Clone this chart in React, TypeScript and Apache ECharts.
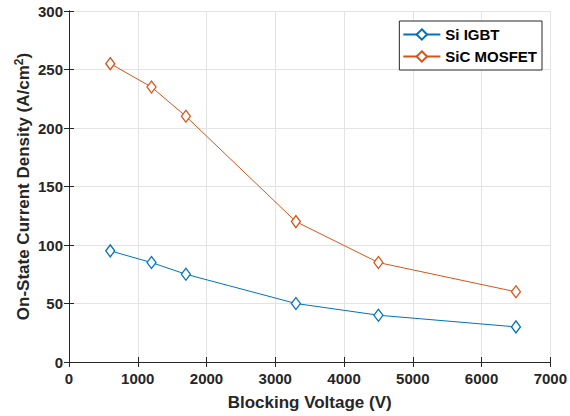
import React, { useEffect, useRef } from "react";
import * as echarts from "echarts";

const voltages = [600, 1200, 1700, 3300, 4500, 6500];
const siIGBT = [95, 85, 75, 50, 40, 30];
const sicMOSFET = [255, 235, 210, 120, 85, 60];
const seriesNames = ["Si IGBT", "SiC MOSFET"];

const TXT = "#262626";
const FONT = "'Liberation Sans', Arial, Helvetica, sans-serif";

export default function App() {
  const ref = useRef<HTMLDivElement>(null);
  useEffect(() => {
    if (!ref.current) return;
    const chart = echarts.init(ref.current, undefined, { renderer: "svg" });
    const pair = (ys: number[]) => voltages.map((v, i) => [v, ys[i]]);
    const mkSeries = (name: string, ys: number[], color: string) => ({
      name,
      type: "line",
      data: pair(ys),
      symbol: "diamond",
      symbolSize: [9, 12],
      showSymbol: true,
      lineStyle: { color, width: 1 },
      itemStyle: { color: "#fff", borderColor: color, borderWidth: 1.3 },
      emphasis: { disabled: true },
    });
    const tickCommon = {
      show: true,
      inside: true,
      length: 5,
      lineStyle: { color: TXT, width: 1 },
    };
    const nameStyle = {
      color: TXT,
      fontWeight: "bold",
      fontSize: 17,
      fontFamily: FONT,
    };
    chart.setOption({
      animation: false,
      backgroundColor: "#fff",
      textStyle: { fontFamily: FONT },
      grid: { left: 69, right: 18, top: 11, bottom: 53, containLabel: false },
      legend: {
        data: seriesNames,
        orient: "vertical",
        right: 28,
        top: 21,
        itemWidth: 37,
        itemHeight: 13,
        itemGap: 7,
        padding: [6, 5, 6, 3],
        backgroundColor: "#fff",
        borderColor: TXT,
        borderWidth: 1,
        borderRadius: 0,
        textStyle: { color: "#000", fontWeight: "bold", fontSize: 15, fontFamily: FONT },
      },
      xAxis: [
        {
          type: "value",
          min: 0,
          max: 7000,
          interval: 1000,
          name: "Blocking Voltage (V)",
          nameLocation: "middle",
          nameGap: 32,
          nameMoveOverlap: false,
          nameTextStyle: nameStyle,
          axisLine: { show: true, lineStyle: { color: TXT, width: 1 } },
          axisTick: tickCommon,
          axisLabel: {
            color: TXT,
            fontWeight: "bold",
            fontSize: 15,
            margin: 9,
            fontFamily: FONT,
            formatter: (v: number) => String(v),
          },
          splitLine: { show: true, lineStyle: { color: "#e3e3e3", width: 1 } },
        },
        {
          type: "value",
          position: "top",
          min: 0,
          max: 7000,
          interval: 1000,
          axisLine: { show: true, lineStyle: { color: TXT, width: 1 } },
          axisTick: tickCommon,
          axisLabel: { show: false },
          splitLine: { show: false },
        },
      ],
      yAxis: [
        {
          type: "value",
          min: 0,
          max: 300,
          interval: 50,
          name: "On-State Current Density (A/cm{sup|2})",
          nameLocation: "middle",
          nameGap: 36,
          nameMoveOverlap: false,
          nameTextStyle: {
            ...nameStyle,
            rich: {
              sup: {
                color: TXT,
                fontWeight: "bold",
                fontSize: 12,
                fontFamily: FONT,
                verticalAlign: "top",
                padding: [0, 0, 8, 0],
              },
            },
          },
          axisLine: { show: true, lineStyle: { color: TXT, width: 1 } },
          axisTick: tickCommon,
          axisLabel: {
            color: TXT,
            fontWeight: "bold",
            fontSize: 15,
            margin: 6,
            fontFamily: FONT,
          },
          splitLine: { show: true, lineStyle: { color: "#e3e3e3", width: 1 } },
        },
        {
          type: "value",
          position: "right",
          min: 0,
          max: 300,
          interval: 50,
          axisLine: { show: true, lineStyle: { color: TXT, width: 1 } },
          axisTick: tickCommon,
          axisLabel: { show: false },
          splitLine: { show: false },
        },
      ],
      series: [
        mkSeries(seriesNames[0], siIGBT, "#0072BD"),
        mkSeries(seriesNames[1], sicMOSFET, "#D95319"),
      ],
    });
    return () => chart.dispose();
  }, []);
  return (
    <div
      ref={ref}
      style={{ position: "fixed", left: 0, top: 0, width: 570, height: 416 }}
    />
  );
}
